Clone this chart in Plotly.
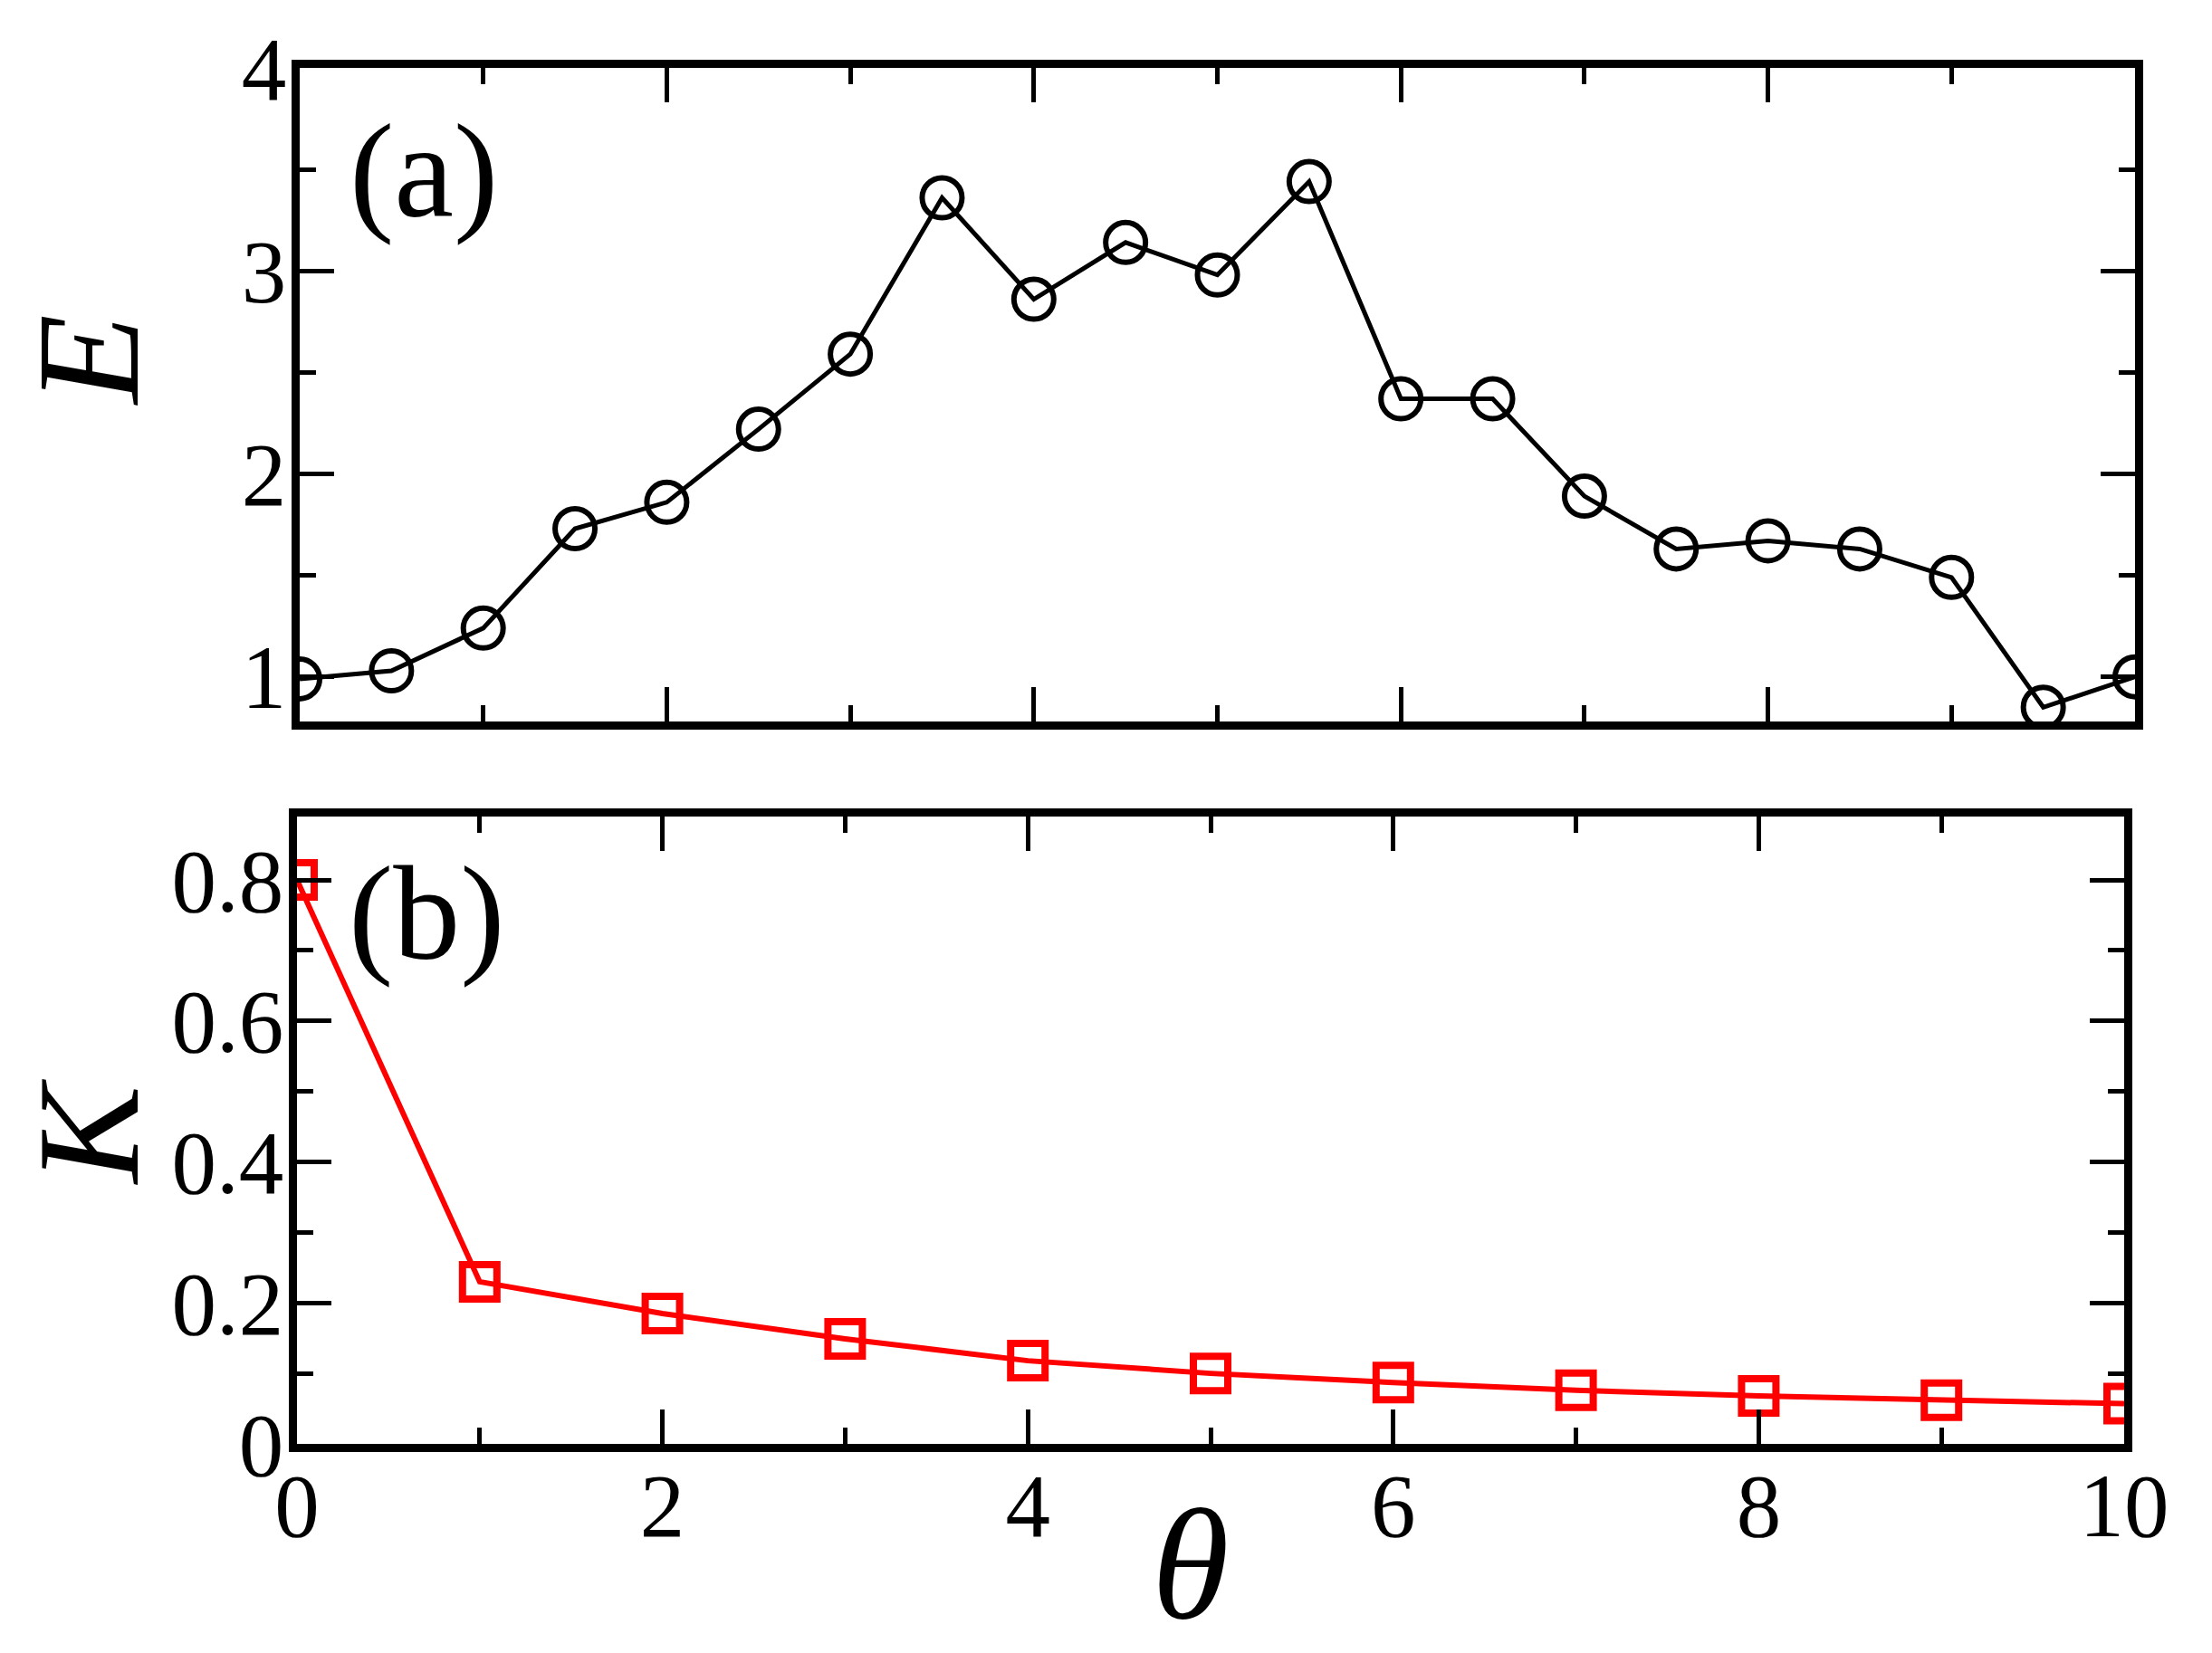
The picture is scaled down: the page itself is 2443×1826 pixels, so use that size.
import plotly.graph_objects as go

# panel (a): E vs theta
theta_a = [0, 0.5, 1, 1.5, 2, 2.5, 3, 3.5, 4, 4.5, 5, 5.5, 6, 6.5, 7, 7.5, 8, 8.5, 9, 9.5, 10]
E = [0.99, 1.03, 1.24, 1.73, 1.86, 2.22, 2.59, 3.36, 2.86, 3.14, 2.98, 3.44,
     2.37, 2.37, 1.89, 1.63, 1.67, 1.63, 1.49, 0.85, 1.00]

# panel (b): K vs theta
theta_b = [0, 1, 2, 3, 4, 5, 6, 7, 8, 9, 10]
K = [0.80, 0.23, 0.185, 0.149, 0.118, 0.100, 0.087, 0.076, 0.068, 0.062, 0.057]

W, H = 2443, 1826
OFF = 8  # page body margin
font = "Liberation Serif"


def px(v):
    return (v - OFF) / W


def py(v):
    return 1 - (v - OFF) / H


fig = go.Figure()

fig.add_trace(go.Scatter(
    x=theta_a, y=E, mode="lines+markers", xaxis="x", yaxis="y",
    line=dict(color="black", width=5),
    marker=dict(symbol="circle-open", size=44, color="black", line=dict(width=6)),
    showlegend=False))

fig.add_trace(go.Scatter(
    x=theta_b, y=K, mode="lines+markers", xaxis="x2", yaxis="y2",
    line=dict(color="#ff0000", width=6),
    marker=dict(symbol="square-open", size=38, color="#ff0000", line=dict(width=8)),
    showlegend=False))

axis_common = dict(
    showline=True, linewidth=9, linecolor="black", mirror="allticks",
    ticks="inside", ticklen=38, tickwidth=5, tickcolor="black",
    showgrid=False, zeroline=False, automargin=False, ticklabeloverflow="allow",
    tickfont=dict(family=font, size=99, color="black"),
)

fig.update_layout(
    width=W, height=H, autosize=False,
    margin=dict(l=0, r=0, t=0, b=0, pad=0, autoexpand=False),
    plot_bgcolor="white", paper_bgcolor="white",
    xaxis=dict(axis_common, domain=[px(331), px(2358)], anchor="y",
               range=[0, 10], dtick=2, tick0=0, showticklabels=False,
               minor=dict(ticks="inside", ticklen=18, tickwidth=5, dtick=1, tickcolor="black")),
    yaxis=dict(axis_common, domain=[py(797), py(75)], anchor="x",
               range=[0.78, 4], dtick=1, tick0=0, ticklabelstandoff=-14,
               minor=dict(ticks="inside", ticklen=18, tickwidth=5, dtick=0.5, tickcolor="black")),
    xaxis2=dict(axis_common, domain=[px(328), px(2346)], anchor="y2",
                range=[0, 10], dtick=2, tick0=0, ticklabelstandoff=-26,
                minor=dict(ticks="inside", ticklen=18, tickwidth=5, dtick=1, tickcolor="black")),
    yaxis2=dict(axis_common, domain=[py(1595), py(902)], anchor="x2",
                range=[0, 0.89], ticklabelstandoff=-14,
                tickvals=[0, 0.2, 0.4, 0.6, 0.8], ticktext=["0", "0.2", "0.4", "0.6", "0.8"],
                minor=dict(ticks="inside", ticklen=18, tickwidth=5, dtick=0.1, tickcolor="black")),
)

annotations = [
    dict(text="<i>E</i>", x=97, y=397, textangle=-90, size=162),
    dict(text="<i>K</i>", x=97, y=1250, textangle=-90, size=162),
    dict(text="<i>θ</i>", x=1314, y=1728, textangle=0, size=174),
    dict(text="(a)", x=468, y=189, textangle=0, size=148),
    dict(text="(b)", x=471, y=1009, textangle=0, size=148),
]
for a in annotations:
    fig.add_annotation(text=a["text"], x=px(a["x"]), y=py(a["y"]), xref="paper", yref="paper",
                       xanchor="center", yanchor="middle", showarrow=False,
                       textangle=a["textangle"], borderpad=0,
                       font=dict(family=font, size=a["size"], color="black"))

fig.write_html("out.html")
